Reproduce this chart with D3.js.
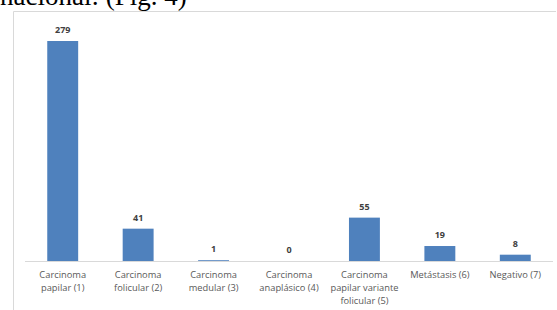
<!DOCTYPE html>
<html lang="es">
<script src="https://d3js.org/d3.v7.min.js" charset="utf-8"></script>
<head>
  <meta charset="utf-8">
  <title>Fig. 4</title>
  <style>
    body { margin: 0; background: white; }
    svg { display: block; }
  </style>
</head>
<body>
  <svg id="chart" width="557" height="310"></svg>
</body>
<script>
  // datos de la figura
  var categorias = [
    ["Carcinoma", "papilar (1)"],
    ["Carcinoma", "folicular (2)"],
    ["Carcinoma", "medular (3)"],
    ["Carcinoma", "anaplásico (4)"],
    ["Carcinoma", "papilar variante", "folicular (5)"],
    ["Metástasis (6)"],
    ["Negativo (7)"]
  ];
  var casos = [279, 41, 1, 0, 55, 19, 8];

  var svg = d3.select("#chart");

  // texto del documento cortado arriba
  svg.append("text")
    .attr("x", 0)
    .attr("y", 5)
    .attr("font-family", "Liberation Serif, serif")
    .attr("font-size", "27px")
    .attr("fill", "#000")
    .text("nacional: (Fig. 4)");

  // marco del gráfico
  svg.append("path")
    .attr("d", "M13.5,320V11.5H556")
    .attr("fill", "none")
    .attr("stroke", "#d9d9d9")
    .attr("stroke-width", 1);

  var x0 = 25, x1 = 553, base = 261;

  var xScale = d3.scaleBand()
    .domain(d3.range(casos.length))
    .range([x0, x1])
    .paddingInner(0.59)
    .paddingOuter(0.295);

  var yScale = d3.scaleLinear()
    .domain([0, 279])
    .range([base, 41]);

  // eje horizontal
  svg.append("line")
    .attr("x1", x0).attr("x2", x1)
    .attr("y1", base + 0.5).attr("y2", base + 0.5)
    .attr("stroke", "#d9d9d9");

  svg.selectAll(".bar")
    .data(casos)
    .enter().append("rect")
    .attr("class", "bar")
    .attr("x", function(d, i) { return xScale(i); })
    .attr("y", function(d) { return yScale(d); })
    .attr("width", xScale.bandwidth())
    .attr("height", function(d) { return base - yScale(d); })
    .attr("fill", "#4f81bd");

  svg.selectAll(".valor")
    .data(casos)
    .enter().append("text")
    .attr("class", "valor")
    .attr("x", function(d, i) { return xScale(i) + xScale.bandwidth() / 2; })
    .attr("y", function(d) { return yScale(d) - 8; })
    .attr("text-anchor", "middle")
    .attr("font-family", "Open Sans, sans-serif")
    .attr("font-size", "9px")
    .attr("font-weight", "bold")
    .attr("fill", "#404040")
    .text(function(d) { return d; });

  var etiquetas = svg.selectAll(".cat")
    .data(categorias)
    .enter().append("text")
    .attr("class", "cat")
    .attr("text-anchor", "middle")
    .attr("font-family", "Open Sans, sans-serif")
    .attr("font-size", "9.3px")
    .attr("fill", "#595959")
    .attr("transform", function(d, i) {
      return "translate(" + (xScale(i) + xScale.bandwidth() / 2) + "," + 278 + ")";
    });

  etiquetas.selectAll("tspan")
    .data(function(d) { return d; })
    .enter().append("tspan")
    .attr("x", 0)
    .attr("y", function(d, j) { return j * 13; })
    .text(function(d) { return d; });
</script>
</html>
